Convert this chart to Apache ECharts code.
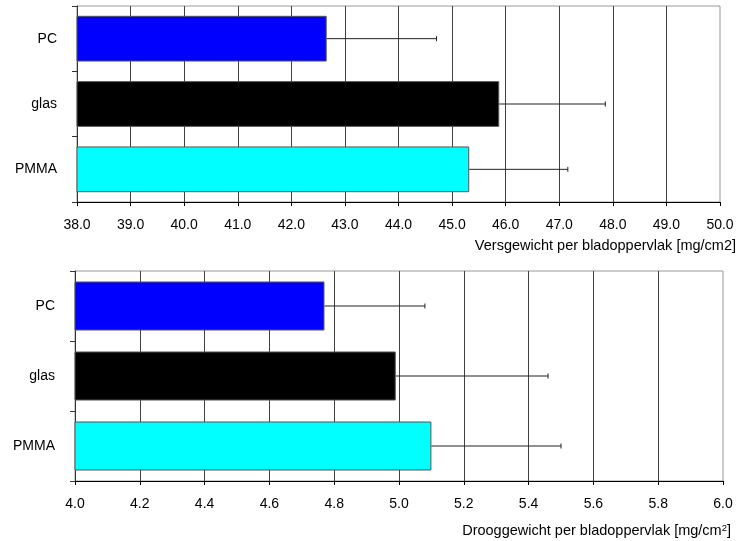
<!DOCTYPE html>
<html>
<head>
<meta charset="utf-8">
<script src="https://cdn.jsdelivr.net/npm/echarts@6/dist/echarts.min.js"></script>
<style>
html,body{margin:0;padding:0;background:#fff;}
#main{width:741px;height:541px;}
</style>
</head>
<body>
<div id="main"></div>
<script>
// ---- data ----
var categories = ['PC', 'glas', 'PMMA'];
var barColors = ['#0000FF', '#000000', '#00FFFF'];
var freshMean = [42.66, 45.88, 45.32];
var freshErr = [2.05, 1.98, 1.84];
var dryMean = [4.77, 4.99, 5.10];
var dryErr = [0.31, 0.47, 0.40];
var freshAxisName = 'Versgewicht per bladoppervlak [mg/cm2]';
var dryAxisNamePrefix = 'Drooggewicht per bladoppervlak [mg/cm';
var dryAxisNameSup = '2';
var dryAxisNameSuffix = ']';

var FONT = 'Liberation Sans, Arial, sans-serif';

function barData(means) {
  return means.map(function (v, i) {
    return { value: v, itemStyle: { color: barColors[i] } };
  });
}
function errData(means, errs) {
  return means.map(function (v, i) { return [v, i, v + errs[i]]; });
}
function renderErr(params, api) {
  var y = api.value(1);
  var s = api.coord([api.value(0), y]);
  var e = api.coord([api.value(2), y]);
  var cap = 2.5;
  var st = { stroke: '#222', lineWidth: 1 };
  return {
    type: 'group',
    children: [
      { type: 'line', shape: { x1: s[0], y1: s[1], x2: e[0], y2: e[1] }, style: st },
      { type: 'line', shape: { x1: e[0], y1: e[1] - cap, x2: e[0], y2: e[1] + cap }, style: st }
    ]
  };
}

function xAxisCfg(idx, min, max, interval, name, nameGap, padTop) {
  return {
    type: 'value', gridIndex: idx, min: min, max: max, interval: interval,
    axisLine: { show: true, lineStyle: { color: '#000', width: 1 } },
    axisTick: { show: true, length: 4, lineStyle: { color: '#000' } },
    axisLabel: {
      margin: 16, color: '#000', fontSize: 14, fontFamily: FONT,
      formatter: function (v) { return v.toFixed(1); }
    },
    splitLine: { show: true, showMinLine: false, showMaxLine: false, lineStyle: { color: '#404040', width: 1 } },
    name: name, nameLocation: 'end', nameGap: nameGap,
    nameTextStyle: {
      color: '#000', fontSize: 14.5, fontFamily: FONT, align: 'right', verticalAlign: 'top',
      padding: [padTop, 0, 0, 0],
      rich: { sup: { fontSize: 9.5, fontFamily: FONT, color: '#000', verticalAlign: 'top', padding: [0, 0, 6, 0] } }
    }
  };
}
function yAxisCfg(idx) {
  return {
    type: 'category', gridIndex: idx, data: categories, inverse: true,
    axisLine: { show: true, lineStyle: { color: '#333', width: 1 } },
    axisTick: { show: true, length: 5, lineStyle: { color: '#333' } },
    axisLabel: { margin: 20, color: '#000', fontSize: 14, fontFamily: FONT, padding: [2, 0, 0, 0] },
    splitLine: { show: false }
  };
}

var chart = echarts.init(document.getElementById('main'), null, { renderer: 'canvas' });
chart.setOption({
  animation: false,
  backgroundColor: '#fff',
  grid: [
    { left: 77, top: 6, right: 21, height: 196, show: true, borderColor: '#999', borderWidth: 1, containLabel: false },
    { left: 75, top: 271, right: 18, height: 210, show: true, borderColor: '#999', borderWidth: 1, containLabel: false }
  ],
  xAxis: [
    xAxisCfg(0, 38, 50, 1, freshAxisName, 16, 36),
    xAxisCfg(1, 4.0, 6.0, 0.2, dryAxisNamePrefix + '{sup|' + dryAxisNameSup + '}' + dryAxisNameSuffix, 8, 42)
  ],
  yAxis: [yAxisCfg(0), yAxisCfg(1)],
  series: [
    {
      type: 'bar', xAxisIndex: 0, yAxisIndex: 0, data: barData(freshMean),
      barCategoryGap: '30%', itemStyle: { borderColor: '#555', borderWidth: 1 }
    },
    {
      type: 'custom', xAxisIndex: 0, yAxisIndex: 0, data: errData(freshMean, freshErr),
      encode: { x: [0, 2], y: 1 }, renderItem: renderErr, z: 3
    },
    {
      type: 'bar', xAxisIndex: 1, yAxisIndex: 1, data: barData(dryMean),
      barCategoryGap: '30%', itemStyle: { borderColor: '#555', borderWidth: 1 }
    },
    {
      type: 'custom', xAxisIndex: 1, yAxisIndex: 1, data: errData(dryMean, dryErr),
      encode: { x: [0, 2], y: 1 }, renderItem: renderErr, z: 3
    }
  ]
});
</script>
</body>
</html>
